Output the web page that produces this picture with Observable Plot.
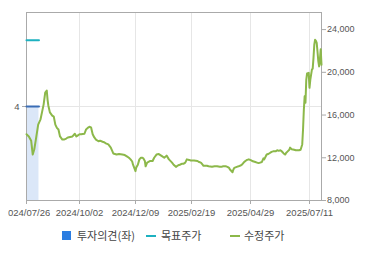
<!DOCTYPE html>
<html><head><meta charset="utf-8">
<script src="https://cdn.jsdelivr.net/npm/d3@7"></script>
<script src="https://cdn.jsdelivr.net/npm/@observablehq/plot@0.6"></script>
<style>
html,body{margin:0;padding:0;background:#fff;}
#wrap{position:relative;width:370px;height:255px;overflow:hidden;}
#wrap svg{position:absolute;left:0;top:0;}
.lg{position:absolute;font-family:"Noto Sans CJK KR","Noto Sans",sans-serif;font-size:11px;color:#444;line-height:14px;top:228px;white-space:nowrap;}
.sw{position:absolute;}
svg g[aria-label="x-axis tick label"] text:first-child{clip-path:inset(0 0 0 5.5px);}
</style>
</head><body><div id="wrap"></div>
<script>
const dates = ["2024-07-26","2024-07-29","2024-08-01","2024-08-03","2024-08-05","2024-08-07","2024-08-10","2024-08-13","2024-08-15","2024-08-17","2024-08-19","2024-08-21","2024-08-22","2024-08-23","2024-08-25","2024-08-28","2024-08-30","2024-09-01","2024-09-03","2024-09-05","2024-09-07","2024-09-10","2024-09-12","2024-09-15","2024-09-17","2024-09-20","2024-09-23","2024-09-26","2024-09-28","2024-09-30","2024-10-02","2024-10-04","2024-10-08","2024-10-10","2024-10-12","2024-10-14","2024-10-16","2024-10-18","2024-10-20","2024-10-22","2024-10-25","2024-10-27","2024-10-30","2024-11-01","2024-11-03","2024-11-06","2024-11-09","2024-11-11","2024-11-12","2024-11-16","2024-11-19","2024-11-23","2024-11-26","2024-11-29","2024-12-01","2024-12-03","2024-12-05","2024-12-06","2024-12-09","2024-12-10","2024-12-12","2024-12-14","2024-12-16","2024-12-18","2024-12-19","2024-12-21","2024-12-22","2024-12-24","2024-12-28","2024-12-31","2025-01-02","2025-01-05","2025-01-08","2025-01-09","2025-01-12","2025-01-15","2025-01-18","2025-01-21","2025-01-25","2025-01-27","2025-01-30","2025-02-02","2025-02-04","2025-02-07","2025-02-09","2025-02-11","2025-02-13","2025-02-16","2025-02-18","2025-02-22","2025-02-26","2025-02-28","2025-03-02","2025-03-04","2025-03-05","2025-03-09","2025-03-11","2025-03-15","2025-03-18","2025-03-21","2025-03-24","2025-03-26","2025-03-28","2025-03-31","2025-04-02","2025-04-04","2025-04-05","2025-04-08","2025-04-09","2025-04-10","2025-04-13","2025-04-15","2025-04-18","2025-04-19","2025-04-21","2025-04-23","2025-04-25","2025-04-27","2025-04-30","2025-05-01","2025-05-03","2025-05-05","2025-05-07","2025-05-09","2025-05-11","2025-05-13","2025-05-15","2025-05-16","2025-05-19","2025-05-21","2025-05-23","2025-05-25","2025-05-27","2025-05-30","2025-06-01","2025-06-03","2025-06-05","2025-06-06","2025-06-08","2025-06-09","2025-06-11","2025-06-12","2025-06-14","2025-06-16","2025-06-17","2025-06-19","2025-06-22","2025-06-24","2025-06-26","2025-06-28","2025-06-30","2025-07-02","2025-07-03","2025-07-04","2025-07-05","2025-07-06","2025-07-07","2025-07-08","2025-07-10","2025-07-11","2025-07-12","2025-07-14","2025-07-15","2025-07-16","2025-07-17","2025-07-18","2025-07-19","2025-07-20","2025-07-21","2025-07-22","2025-07-23","2025-07-24","2025-07-25","2025-07-26"];
const prices = [14200,14000,13600,12300,12800,13700,15100,15600,16300,17000,18100,18300,17450,16900,16250,15950,15850,15100,14800,14650,14000,13700,13700,13800,13900,13950,14000,14250,14000,14100,14200,14200,14250,14650,14800,14900,14850,14200,13900,13700,13550,13600,13500,13450,13350,13250,12950,12600,12400,12300,12350,12300,12250,12100,12000,11850,11650,11350,10750,11100,11350,11850,12000,12000,11950,11700,11200,11550,11700,11700,12000,12300,12350,12300,12150,12000,12200,11850,11550,11350,11150,11300,11350,11450,11450,11550,11850,11800,11750,11750,11700,11600,11550,11350,11250,11250,11200,11150,11200,11200,11150,11150,11200,11200,11150,11050,10900,10650,10900,11050,11150,11200,11300,11350,11550,11700,11800,11850,11750,11700,11650,11600,11550,11500,11550,11600,11950,11850,12300,12350,12450,12550,12600,12600,12700,12650,12700,12650,12500,12400,12300,12450,12600,12750,12950,12800,12750,12700,12700,12700,12750,13250,14650,16500,17750,17150,19300,19900,19950,18550,19300,20250,20350,21350,22600,23050,22950,22750,21950,21050,20550,21200,22150,20700];

const opinionDates = ["2024-07-26","2024-08-11"];
const opinionValues = [4, 4];
const targetDates = ["2024-07-26","2024-08-11"];
const targetValues = [23000, 23000];

const tickLabels = ["2024/07/26","2024/10/02","2024/12/09","2025/02/19","2025/04/29","2025/07/11"];
const xEnd = "2025/07/26";
const priceTicks = [8000,12000,16000,20000,24000];
const priceDomain = [8000, 25600];
const opinionDomain = [3, 5];
const opinionTicks = [4];

const parse = s => new Date(s.replace(/\//g, "-"));
const toPrice = v => priceDomain[0] + (v - opinionDomain[0]) / (opinionDomain[1] - opinionDomain[0]) * (priceDomain[1] - priceDomain[0]);
const fromPrice = p => opinionDomain[0] + (p - priceDomain[0]) / (priceDomain[1] - priceDomain[0]) * (opinionDomain[1] - opinionDomain[0]);

const series = dates.map((d, i) => ({date: parse(d), price: prices[i]}));
const opinion = opinionDates.map((d, i) => ({date: parse(d), v: opinionValues[i]}));
const target = targetDates.map((d, i) => ({date: parse(d), price: targetValues[i]}));
const ticks = tickLabels.map(parse);

const W = 370, H = 225;
const chart = Plot.plot({
  width: W, height: H,
  marginLeft: 26, marginRight: 49, marginTop: 12, marginBottom: 25,
  style: {fontFamily: "'Liberation Sans', Arial, sans-serif", background: "#fff", overflow: "visible"},
  x: {type: "utc", domain: [...ticks, parse(xEnd)], range: [26, 79, 135, 191, 250, 309, 321]},
  y: {domain: priceDomain},
  marks: [
    Plot.areaY(opinion, {x: "date", y1: () => toPrice(opinionDomain[0]), y2: d => toPrice(d.v), fill: "#dbe7f8"}),
    Plot.ruleX(ticks.slice(1), {stroke: "#e6e6e6"}),
    Plot.ruleY(opinionTicks.map(toPrice), {stroke: "#e6e6e6"}),
    Plot.frame({stroke: "#aaaaaa"}),
    Plot.axisX({ticks, tickFormat: d3.utcFormat("%Y/%m/%d"), tickSize: 4, tickPadding: 5, fontSize: 9.5, stroke: "#aaa", fill: "#555", label: null}),
    Plot.axisY({anchor: "right", ticks: priceTicks, tickFormat: d3.format(","), tickSize: 4, tickPadding: 1.5, fontSize: 9, stroke: "#aaa", fill: "#555", label: null}),
    Plot.axisY({anchor: "left", ticks: opinionTicks.map(toPrice), tickFormat: p => String(Math.round(fromPrice(p))), tickSize: 4, tickPadding: 3, fontSize: 9.5, stroke: "#aaa", fill: "#555", label: null}),
    Plot.lineY(opinion, {x: "date", y: d => toPrice(d.v), stroke: "#3a6db5", strokeWidth: 2}),
    Plot.lineY(target, {x: "date", y: "price", stroke: "#1db1c0", strokeWidth: 2}),
    Plot.lineY(series, {x: "date", y: "price", stroke: "#8cb84a", strokeWidth: 2, strokeLinejoin: "round"})
  ]
});
const wrap = document.getElementById("wrap");
wrap.appendChild(chart);

const legend = [
  {label: "투자의견(좌)", color: "#2b7de1", kind: "square", sx: 62, tx: 77},
  {label: "목표주가", color: "#1db1c0", kind: "dash", sx: 146, tx: 161},
  {label: "수정주가", color: "#8cb84a", kind: "dash", sx: 230, tx: 244}
];
for (const it of legend) {
  const s = document.createElement("div");
  s.className = "sw";
  s.style.background = it.color;
  if (it.kind === "square") { s.style.left = it.sx + "px"; s.style.top = "231px"; s.style.width = "9px"; s.style.height = "9px"; }
  else { s.style.left = it.sx + "px"; s.style.top = "235px"; s.style.width = "10px"; s.style.height = "2px"; }
  wrap.appendChild(s);
  const t = document.createElement("div");
  t.className = "lg";
  t.style.left = it.tx + "px";
  t.textContent = it.label;
  wrap.appendChild(t);
}
</script></body></html>
